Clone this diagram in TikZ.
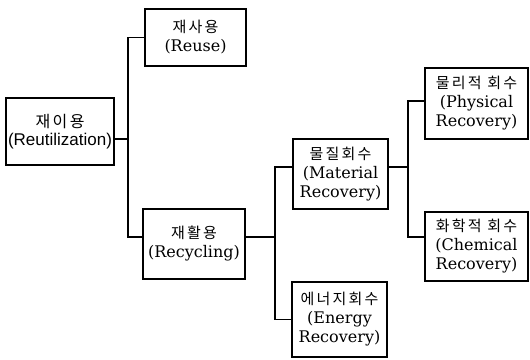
\documentclass[tikz,border=0pt]{standalone}
\usepackage{fontspec}
\setmainfont{DejaVu Serif}
\setsansfont{Liberation Sans}
\newfontfamily\krfont{Noto Sans CJK KR}[LetterSpace=15]
\newcommand\kt[1]{{\krfont\fontsize{15}{19}\selectfont #1}}
\begin{document}
\begin{tikzpicture}[x=1pt,y=-1pt,
  box/.style={draw, line width=1.6pt, align=center, inner sep=0pt,
    font=\fontsize{16}{19}\selectfont},
  conn/.style={line width=1.6pt}]
\useasboundingbox (0,0) rectangle (530,359);
\node[box, minimum width=108pt, minimum height=67pt,
  font=\sffamily\fontsize{17}{18}\selectfont] (reut) at (60,131.5)
  {{\krfont\fontsize{16}{18}\selectfont 재이용}\\(Reutilization)};
\node[box, minimum width=101pt, minimum height=57pt] (reuse) at (195.5,37.5)
  {\kt{재사용}\\(Reuse)};
\node[box, minimum width=102pt, minimum height=70pt] (recyc) at (194,244)
  {\kt{재활용}\\(Recycling)};
\node[box, minimum width=95pt, minimum height=70pt] (mat) at (340.5,174)
  {\kt{물질회수}\\(Material\\Recovery)};
\node[box, minimum width=95pt, minimum height=75pt] (energy) at (339.5,319.5)
  {\kt{에너지회수}\\(Energy\\Recovery)};
\node[box, minimum width=103pt, minimum height=71pt] (phys) at (476.5,103.5)
  {\kt{물리적 회수}\\(Physical\\Recovery)};
\node[box, minimum width=103pt, minimum height=69pt] (chem) at (476.5,246.5)
  {\kt{화학적 회수}\\(Chemical\\Recovery)};
\coordinate (j1) at (128,139);
\coordinate (j2) at (275,237);
\coordinate (j3) at (408,167);
\draw[conn] ([yshift=-7.5pt]reut.east) -- (j1);
\draw[conn] (reuse.west) -| (j1) |- ([yshift=7pt]recyc.west);
\draw[conn] ([yshift=7pt]recyc.east) -- (j2);
\draw[conn] ([yshift=7pt]mat.west) -| (j2) |- (energy.west);
\draw[conn] ([yshift=7pt]mat.east) -- (j3);
\draw[conn] ([yshift=2.5pt]phys.west) -| (j3) |- ([yshift=9.5pt]chem.west);
\end{tikzpicture}
\end{document}
